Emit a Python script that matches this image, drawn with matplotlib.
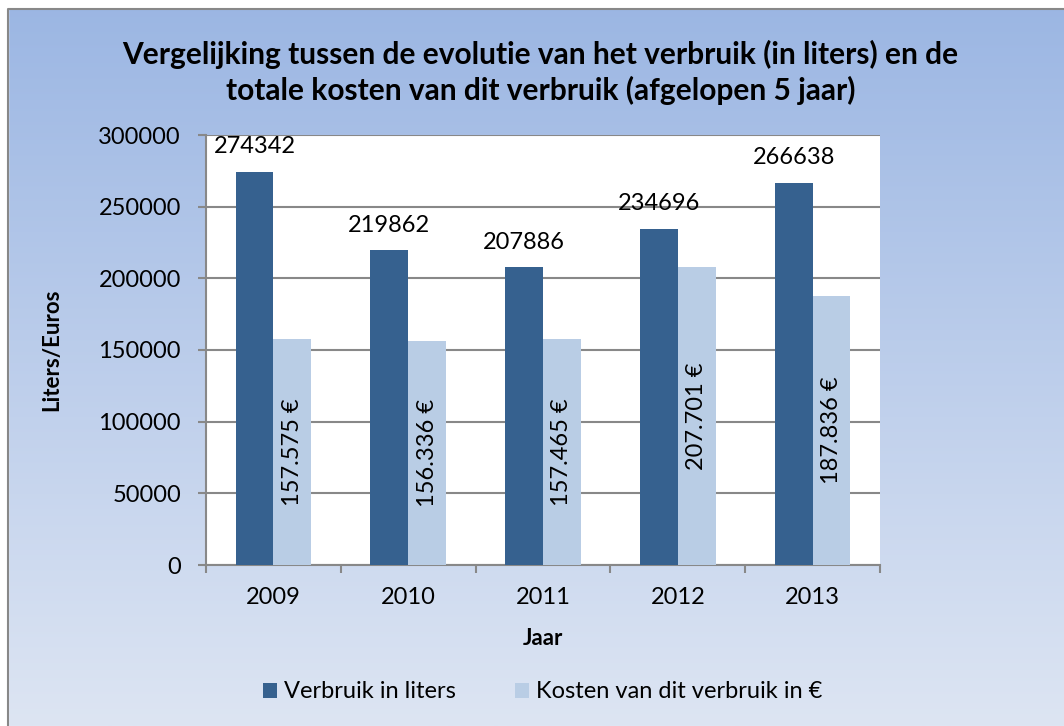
import numpy as np
import matplotlib.pyplot as plt
from matplotlib.patches import Rectangle
from matplotlib.colors import LinearSegmentedColormap

jaren = ['2009', '2010', '2011', '2012', '2013']
liters = [274342, 219862, 207886, 234696, 266638]
kosten = [157575, 156336, 157465, 207701, 187836]
kosten_lbl = ['157.575 €', '156.336 €', '157.465 €', '207.701 €', '187.836 €']

plt.rcParams['font.family'] = ['Lato', 'DejaVu Sans']

fig = plt.figure(figsize=(10.64, 7.26), dpi=100)

# gradient background of the chart area
bg = fig.add_axes([0, 0, 1, 1], zorder=-10)
grad = np.linspace(0, 1, 256).reshape(-1, 1)
cm = LinearSegmentedColormap.from_list('bg', ['#9bb6e3', '#dde5f3'])
bg.imshow(grad, aspect='auto', cmap=cm, extent=[0, 1, 0, 1], origin='upper')
bg.set_xlim(0, 1)
bg.set_ylim(0, 1)
bg.axis('off')
fig.patch.set_facecolor('white')
bg.add_patch(Rectangle((0, 0.99), 1, 0.02, color='white', transform=bg.transAxes, zorder=2))
bg.add_patch(Rectangle((-0.01, 0), 0.0175, 1, color='white', transform=bg.transAxes, zorder=2))
bg.plot([0.0075, 0.0075, 1], [0, 0.988, 0.988], color='#888888', lw=1.5, transform=bg.transAxes, zorder=3, clip_on=False)

ax = fig.add_axes([206/1064, 1 - 565/726, (880-206)/1064, (565-135)/726])
ax.set_facecolor('white')

x = np.arange(len(jaren))
w = 0.28
b1 = ax.bar(x - w/2, liters, w, color='#36618f', label='Verbruik in liters', zorder=3)
b2 = ax.bar(x + w/2, kosten, w, color='#b9cde5', label='Kosten van dit verbruik in €', zorder=3)

for xi, v in zip(x, liters):
    ax.text(xi - w/2, v + 10000, str(v), ha='center', va='bottom', fontsize=17, zorder=4)
for xi, v, s in zip(x, kosten, kosten_lbl):
    ax.text(xi + w/2, v/2, s, ha='center', va='center', rotation=90, fontsize=17, zorder=4)

ax.set_ylim(0, 300000)
ax.set_xlim(-0.5, 4.5)
ax.set_yticks(np.arange(0, 300001, 50000))
ax.set_xticks(x)
ax.set_xticklabels(jaren)
ax.set_xticks(np.arange(-0.5, 5, 1), minor=True)
ax.tick_params(axis='x', which='major', length=0, labelsize=17, pad=16)
ax.tick_params(axis='x', which='minor', length=6, width=1.5, color='#888888')
ax.tick_params(axis='y', length=6, width=1.5, color='#888888', labelsize=17, pad=12)
ax.grid(axis='y', color='#888888', lw=1.5, zorder=0)
for s in ['top', 'right']:
    ax.spines[s].set_visible(False)
for s in ['left', 'bottom']:
    ax.spines[s].set_color('#888888')
    ax.spines[s].set_linewidth(1.5)

ax.set_ylabel('Liters/Euros', fontsize=16, fontweight='bold')
ax.yaxis.set_label_coords(-0.213, 0.5)
ax.set_xlabel('Jaar', fontsize=16, fontweight='bold', labelpad=14)

fig.text(0.508, 0.90, 'Vergelijking tussen de evolutie van het verbruik (in liters) en de\ntotale kosten van dit verbruik (afgelopen 5 jaar)',
         ha='center', va='center', fontsize=21.5, fontweight='bold', linespacing=1.3)

fig.legend(handles=[b1, b2], loc='center', bbox_to_anchor=(0.51, 0.047), ncol=2, frameon=False,
           fontsize=17, handlelength=0.6, handleheight=0.6, handletextpad=0.3, columnspacing=2.5)

fig.savefig('out.png', dpi=100)
